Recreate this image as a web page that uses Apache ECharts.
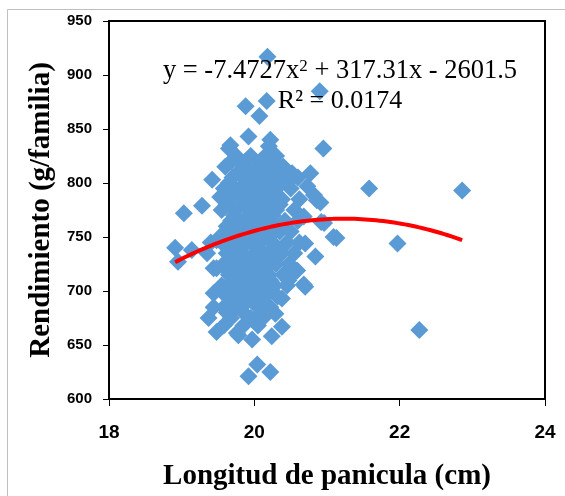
<!DOCTYPE html>
<html>
<head>
<meta charset="utf-8">
<script src="https://cdn.jsdelivr.net/npm/echarts@6/dist/echarts.min.js"></script>
<style>html,body{margin:0;padding:0;background:#fff}#c{width:565px;height:496px}</style>
</head>
<body>
<div id="c"></div>
<script>
// Longitud de panicula (cm)
var longitud = [
 20.18,20.90,19.88,20.17,20.07,19.92,20.22,19.67,20.95,20.20,19.65,20.77,21.58,22.86,21.13,21.97,22.27,20.70,20.84,20.92,
 20.73,20.82,20.91,20.70,19.03,19.28,18.91,18.95,19.14,19.42,19.44,19.48,19.37,19.92,20.04,20.22,19.97,19.76,20.24,20.38,
 20.47,20.59,19.78,19.44,19.44,20.68,20.52,20.38,20.29,19.48,20.52,20.45,19.53,19.48,20.96,20.68,21.09,20.86,19.40,19.35,
 19.75,19.95,20.15,20.30,
 19.60,19.85,20.05,20.25,20.40,
 19.70,19.90,20.10,20.20,20.35,20.60,
 19.58,19.80,19.98,20.12,20.28,20.50,
 19.65,19.85,20.05,20.22,20.38,20.62,
 19.55,19.75,19.95,20.15,20.30,20.55,
 19.68,19.88,20.02,20.20,20.42,20.60,
 19.60,19.80,19.97,20.10,20.35,20.50,
 19.55,19.72,19.90,20.08,20.25,20.45,20.62,
 19.62,19.82,20.00,20.18,20.38,20.55,
 19.58,19.75,19.93,20.12,20.30,20.48,
 19.65,19.85,20.03,20.20,20.40,
 19.55,19.72,19.92,20.10,20.28,20.45,
 19.62,19.80,19.98,20.15,20.32,
 19.58,19.75,20.05,20.22,
 19.68,19.95,20.12,
 19.58,19.85,20.05,
 19.68,19.88,20.08,20.28,
 19.78,19.98,20.18,20.32,
 19.65,19.88,20.05,20.22,20.38,
 19.72,19.92,20.10,20.30,
 19.62,19.82,20.00,20.18,20.35,
 19.72,19.92,20.08,20.25,
 19.62,19.80,20.05,20.28,
 19.70,19.88,20.02,20.20,
 19.65,19.82,20.05,20.28,
 19.72,19.90,20.08,20.22,
 19.62,19.80,19.98,20.15,
 19.70,19.88,20.05,20.22,
 19.62,19.82,20.00,20.18,
 19.70,19.90,20.08,
 19.62,19.85,20.10
];
// Rendimiento (g/familia)
var rendimiento = [
 917,885,871,876,862,843,840,835,832,834,832,809,795,793,749,744,664,704,732,764,
 797,789,782,744,772,779,740,727,738,803,721,662,675,621,632,625,655,661,658,667,
 710,719,659,685,698,706,715,693,679,721,809,800,787,747,763,769,750,784,745,735,
 825,825,825,825,
 815,815,815,815,815,
 805,805,805,805,805,805,
 795,795,795,795,795,795,
 785,785,785,785,785,785,
 775,775,775,775,775,775,
 765,765,765,765,765,765,
 755,755,755,755,755,755,
 745,745,745,745,745,745,745,
 735,735,735,735,735,735,
 725,725,725,725,725,725,
 715,715,715,715,715,
 705,705,705,705,705,705,
 695,695,695,695,695,
 685,685,685,685,
 675,675,675,
 668,668,668,
 820,820,820,820,
 810,810,810,810,
 800,800,800,800,800,
 790,790,790,790,
 780,780,780,780,780,
 770,770,770,770,
 760,760,760,760,
 750,750,750,750,
 740,740,740,740,
 730,730,730,730,
 720,720,720,720,
 710,710,710,710,
 700,700,700,700,
 690,690,690,
 680,680,680
];
// Polynomial trend line coefficients (from the chart label)
var trendA = -7.4727, trendB = 317.31, trendC = -2601.5;
var trendXMin = 18.91, trendXMax = 22.86;
var xTicks = [18, 20, 22, 24];
var yTicks = [600, 650, 700, 750, 800, 850, 900, 950];

var points = longitud.map(function(x, i){ return [x, rendimiento[i]]; });
var trend = [];
for (var k = 0; k <= 80; k++) {
  var x = trendXMin + (trendXMax - trendXMin) * k / 80;
  trend.push([x, trendA * x * x + trendB * x + trendC]);
}

var chart = echarts.init(document.getElementById('c'), null, {renderer: 'canvas'});
chart.setOption({
  animation: false,
  backgroundColor: '#fff',
  grid: {left: 109, right: 20, top: 21, bottom: 97, show: true, borderColor: '#000', borderWidth: 2, containLabel: false},
  xAxis: {
    type: 'value', min: xTicks[0], max: xTicks[xTicks.length-1], interval: 2,
    name: 'Longitud de panicula (cm)', nameLocation: 'middle', nameGap: 63,
    nameTextStyle: {fontFamily: 'Liberation Serif', fontWeight: 'bold', fontSize: 29, color: '#000'},
    axisLine: {show: true, lineStyle: {color: '#000', width: 2}},
    axisTick: {show: true, length: 7, lineStyle: {color: '#000', width: 1}},
    axisLabel: {margin: 24, fontFamily: 'Liberation Sans', fontWeight: 'bold', fontSize: 19, color: '#000'},
    splitLine: {show: false}
  },
  yAxis: {
    type: 'value', min: yTicks[0], max: yTicks[yTicks.length-1], interval: 50,
    name: 'Rendimiento (g/familia)', nameLocation: 'middle', nameGap: 51,
    nameTextStyle: {fontFamily: 'Liberation Serif', fontWeight: 'bold', fontSize: 29, color: '#000'},
    axisLine: {show: true, lineStyle: {color: '#000', width: 2}},
    axisTick: {show: true, length: 6, lineStyle: {color: '#000', width: 1}},
    axisLabel: {margin: 17, fontFamily: 'Liberation Sans', fontWeight: 'bold', fontSize: 15, color: '#000'},
    splitLine: {show: false}
  },
  series: [
    {type: 'scatter', data: points, symbol: 'diamond', symbolSize: 18,
     itemStyle: {color: '#5B9BD5', opacity: 1}, z: 2},
    {type: 'line', data: trend, showSymbol: false, smooth: false,
     lineStyle: {color: '#FF0000', width: 4}, z: 3}
  ],
  graphic: [
    {type: 'line', shape: {x1: 7.5, y1: 9.5, x2: 565, y2: 9.5}, style: {stroke: '#bfbfbf', lineWidth: 1}},
    {type: 'line', shape: {x1: 7.5, y1: 9.5, x2: 7.5, y2: 496}, style: {stroke: '#bfbfbf', lineWidth: 1}},
    {type: 'text', z: 10,
     style: {
       x: 340, y: 85, textAlign: 'center', textVerticalAlign: 'bottom',
       text: '{a|y = -7.4727x}{s|2}{a| + 317.31x - 2601.5}',
       rich: {
         a: {fontFamily: 'Liberation Serif', fontSize: 26.5, color: '#000', verticalAlign: 'bottom'},
         s: {fontFamily: 'Liberation Serif', fontSize: 17, color: '#000', verticalAlign: 'top', padding: [0,0,10,0]}
       }
     }},
    {type: 'text', z: 10,
     style: {x: 340, y: 114, textAlign: 'center', textVerticalAlign: 'bottom',
       text: 'R² = 0.0174', fontFamily: 'Liberation Serif', fontSize: 26, fill: '#000'}}
  ]
});
</script>
</body>
</html>
